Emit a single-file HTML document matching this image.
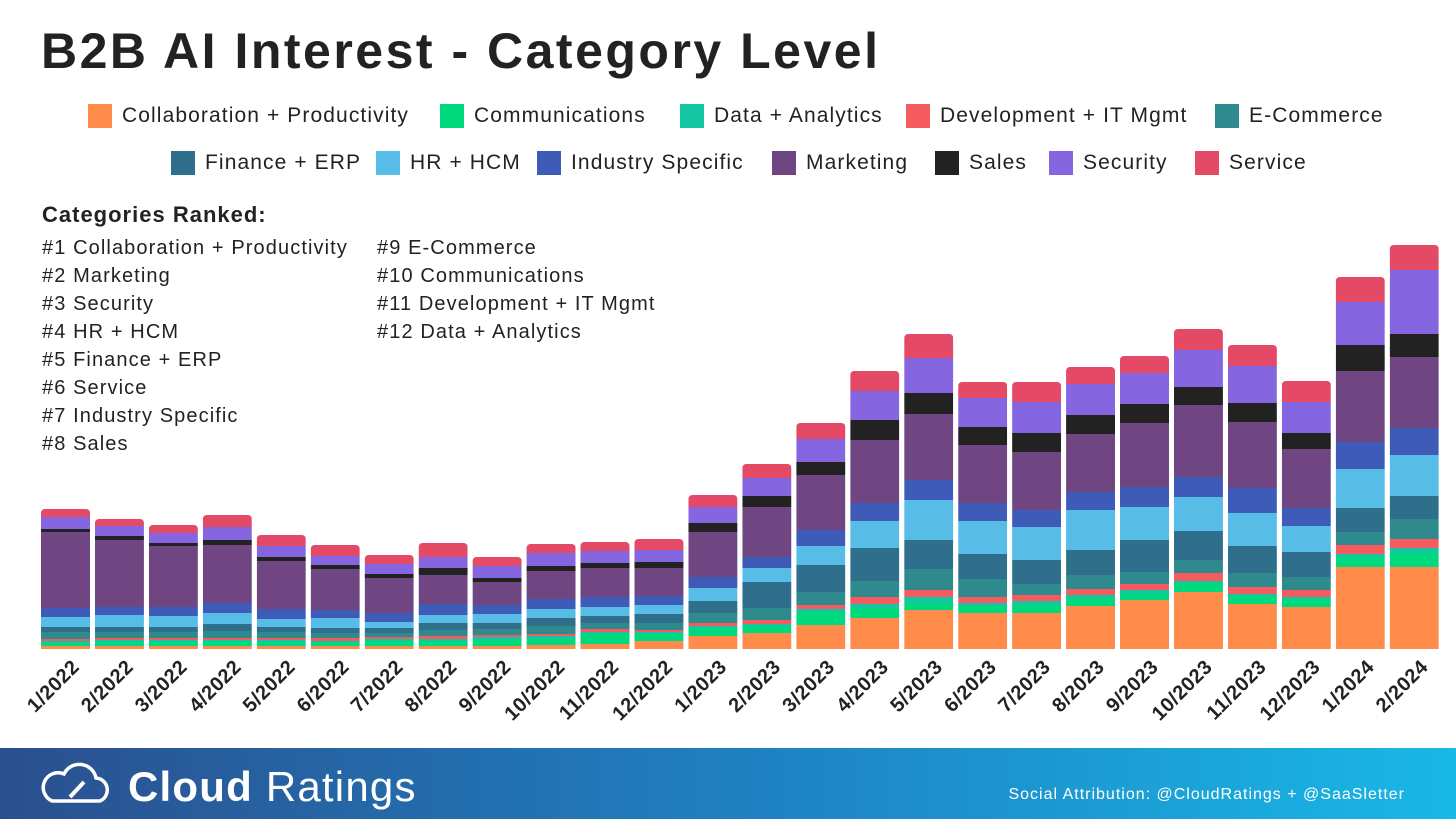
<!DOCTYPE html>
<html><head><meta charset="utf-8"><style>
body{margin:0;width:1456px;height:819px;background:#fff;overflow:hidden;font-family:"Liberation Sans",sans-serif;position:relative}
.t{position:absolute;white-space:nowrap;color:#222}
</style></head><body>
<div class="t" style="left:41px;top:22px;font-size:50px;font-weight:bold;letter-spacing:2.5px">B2B AI Interest - Category Level</div>
<svg id="chart" width="1456" height="819" style="position:absolute;left:0;top:0">
<defs><linearGradient id="fg" x1="0" x2="1"><stop offset="0" stop-color="#2b4f8e"/><stop offset="0.5" stop-color="#1f7fc0"/><stop offset="1" stop-color="#19b8e6"/></linearGradient></defs>
<rect x="0" y="748" width="1456" height="71" fill="url(#fg)"/>
<g fill="none" stroke="#fff" stroke-width="3.5"><path d="M52 801 h48 a12 12 0 0 0 -4 -23 a17 17 0 0 0 -32 -4 a13 13 0 0 0 -12 27z"/><path d="M70 797 l14 -15" stroke-width="4"/></g>
<text x="128" y="801" fill="#fff" font-size="42" letter-spacing="1.2" font-family="Liberation Sans, sans-serif"><tspan font-weight="bold">Cloud</tspan> Ratings</text>
<text x="1405" y="799" fill="#fff" font-size="16" letter-spacing="1" text-anchor="end" font-family="Liberation Sans, sans-serif">Social Attribution: @CloudRatings + @SaaSletter</text>
</svg>
<div class="t" style="left:42px;top:202px;font-size:22px;font-weight:bold;letter-spacing:1px">Categories Ranked:</div>
<div class="t" style="left:42px;top:234px;font-size:20px;line-height:28px;letter-spacing:1.1px">#1 Collaboration + Productivity<br>#2 Marketing<br>#3 Security<br>#4 HR + HCM<br>#5 Finance + ERP<br>#6 Service<br>#7 Industry Specific<br>#8 Sales</div>
<div class="t" style="left:377px;top:234px;font-size:20px;line-height:28px;letter-spacing:1.1px">#9 E-Commerce<br>#10 Communications<br>#11 Development + IT Mgmt<br>#12 Data + Analytics</div>
<div id="legend"></div>
<script>
const categories=["1/2022","2/2022","3/2022","4/2022","5/2022","6/2022","7/2022","8/2022","9/2022","10/2022","11/2022","12/2022","1/2023","2/2023","3/2023","4/2023","5/2023","6/2023","7/2023","8/2023","9/2023","10/2023","11/2023","12/2023","1/2024","2/2024"];
const seriesNames=["Collaboration + Productivity","Communications","Data + Analytics","Development + IT Mgmt","E-Commerce","Finance + ERP","HR + HCM","Industry Specific","Marketing","Sales","Security","Service"];
const collab=[3,3,3,3,3,3,3,3,3,4,5,8,13,16,24,31,39,36,36,43,49,57,45,42,82,82];
const comms=[3,4,4,5,4,4,5,5,6,6,10,7,8,7,13,10,7,7,8,8,6,9,8,8,10,14];
const data=[2,2,2,1,2,1,2,2,3,3,2,2,2,2,3,4,6,3,4,3,4,2,2,2,3,5];
const dev=[2,2,2,2,2,3,2,3,2,2,3,2,3,4,4,7,7,6,6,6,6,8,7,7,9,9];
const ecom=[7,6,6,7,6,5,4,6,6,8,6,7,10,12,13,16,21,18,11,14,12,13,14,13,13,20];
const fin=[5,5,5,7,5,5,5,7,6,8,7,9,12,26,27,33,29,25,24,25,32,29,27,25,24,23];
const hr=[10,12,11,11,8,10,6,8,9,9,9,9,13,14,19,27,40,33,33,40,33,34,33,26,39,41];
const ind=[9,8,9,10,10,8,9,11,9,10,10,9,11,11,16,18,20,18,17,18,20,20,25,18,27,27];
const mkt=[76,67,61,58,48,41,35,29,23,28,29,28,45,50,55,63,66,58,58,58,64,72,66,59,71,71];
const sales=[3,4,3,5,4,4,4,7,4,5,5,6,9,11,13,20,21,18,19,19,19,18,19,16,26,23];
const security=[12,10,10,13,11,9,10,11,12,13,12,12,16,18,23,29,35,29,31,31,31,37,37,31,43,64];
const service=[8,7,8,12,11,11,9,14,9,9,9,11,12,14,16,20,24,16,20,17,17,21,21,21,25,25];
const allSeries=[collab,comms,data,dev,ecom,fin,hr,ind,mkt,sales,security,service];
const colors=["#FF8C4B","#00D97E","#14C6A2","#F55A5F","#2E8A8C","#2F6F8C","#57BDE6","#3F5BB8","#704682","#222222","#8566E0","#E44A65"];
const NS="http://www.w3.org/2000/svg";
const svg=document.getElementById('chart');
const base=649, step=53.95, x0=41, bw=49;
const xPos=i=>x0+i*step;
const yLen=v=>v*1;
categories.forEach((c,i)=>{
  let total=0; allSeries.forEach(s=>total+=s[i]);
  const cp=document.createElementNS(NS,'clipPath'); cp.setAttribute('id','cp'+i);
  const cr=document.createElementNS(NS,'rect');
  cr.setAttribute('x',xPos(i));cr.setAttribute('y',base-yLen(total));cr.setAttribute('width',bw);cr.setAttribute('height',yLen(total)+6);cr.setAttribute('rx',4);
  cp.appendChild(cr); svg.appendChild(cp);
  const g=document.createElementNS(NS,'g'); g.setAttribute('clip-path','url(#cp'+i+')');
  
  
  let y=base;
  allSeries.forEach((s,k)=>{
    const h=yLen(s[i]); y-=h;
    const r=document.createElementNS(NS,'rect');
    r.setAttribute('x',xPos(i));r.setAttribute('y',y);r.setAttribute('width',bw);r.setAttribute('height',h);r.setAttribute('fill',colors[k]);
    
    
    g.appendChild(r);
  });
  svg.appendChild(g);
  const t=document.createElementNS(NS,'text');
  const cx=xPos(i)+bw/2+15, cy=668;
  t.setAttribute('x',cx);t.setAttribute('y',cy);t.setAttribute('text-anchor','end');
  t.setAttribute('transform','rotate(-45 '+cx+' '+cy+')');
  t.setAttribute('font-size','20');t.setAttribute('font-weight','bold');t.setAttribute('fill','#222');
  t.setAttribute('letter-spacing','0.5');
  t.setAttribute('font-family','Liberation Sans, sans-serif');
  
  
  t.textContent=c; svg.appendChild(t);
});
const legPos=[[88,103],[440,103],[680,103],[906,103],[1215,103],[171,150],[376,150],[537,150],[772,150],[935,150],[1049,150],[1195,150]];
const leg=document.getElementById('legend');
seriesNames.forEach((n,k)=>{
  const d=document.createElement('div');
  
  
  d.className='t';
  d.style.cssText='left:'+legPos[k][0]+'px;top:'+legPos[k][1]+'px;font-size:21px;letter-spacing:1.1px;display:flex;align-items:center;height:25px';
  d.innerHTML='<span style="display:inline-block;width:24px;height:24px;background:'+colors[k]+';margin-right:10px"></span>'+n;
  leg.appendChild(d);
});
</script>
</body></html>
